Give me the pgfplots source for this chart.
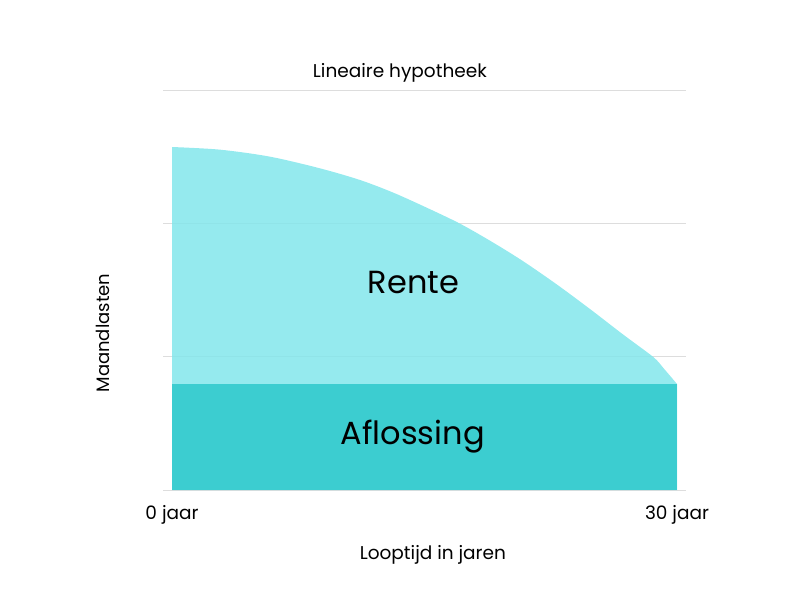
\documentclass[border=0pt]{standalone}
\usepackage{fontspec}
\setmainfont{Poppins}
\usepackage{pgfplots}
\pgfplotsset{compat=1.18}
\definecolor{renteC}{RGB}{131,230,235}
\definecolor{aflosC}{RGB}{60,205,208}
\definecolor{gridC}{RGB}{221,221,221}
\begin{document}
\begin{tikzpicture}[x=1pt,y=1pt]
\path[use as bounding box] (0,0) rectangle (800,600);
\begin{axis}[
  at={(163pt,110pt)}, anchor=south west,
  scale only axis, width=523pt, height=400pt,
  xmin=-0.535, xmax=30.535, ymin=0, ymax=1200,
  axis line style={draw=none},
  xtick={0,30}, xticklabels={0 jaar,30 jaar},
  ytick={0,400,800,1200}, yticklabels={},
  major tick length=0pt,
  ymajorgrids, grid style={gridC, line width=0.8pt},
  xticklabel style={anchor=center, yshift=-25pt, font=\fontsize{18.5}{22}\selectfont},
  every axis title shift=0pt,
  title={Lineaire hypotheek},
  title style={at={(rel axis cs:0.453,1.043)}, anchor=center, font=\fontsize{18.5}{22}\selectfont},
  xlabel={Looptijd in jaren},
  xlabel style={at={(rel axis cs:0.516,-0.1625)}, anchor=center, font=\fontsize{18.5}{22}\selectfont},
  ylabel={Maandlasten},
  ylabel style={at={(rel axis cs:-0.1147,0.3925)}, anchor=center, font=\fontsize{18}{22}\selectfont},
  clip=false,
]
\addplot[draw=none, fill=renteC, fill opacity=0.85, smooth, tension=0.5] coordinates {
 (0,1029) (2.85,1021) (5.82,1000) (8.79,965) (11.17,930) (13.15,892)
 (15.13,847) (17.11,799) (19.09,742) (20.87,686) (22.85,617) (24.83,543)
 (26.81,466) (28.59,399) (29.19,366) (30,318)
} \closedcycle;
\addplot[draw=none, fill=aflosC] coordinates {(0,0) (0,318) (30,318) (30,0)} -- cycle;
\node[anchor=base, font=\fontsize{32}{38}\selectfont] at (axis cs:14.35,591) {Rente};
\node[anchor=base, font=\fontsize{32}{38}\selectfont] at (axis cs:14.3,138) {Aflossing};
\end{axis}
\end{tikzpicture}
\end{document}
